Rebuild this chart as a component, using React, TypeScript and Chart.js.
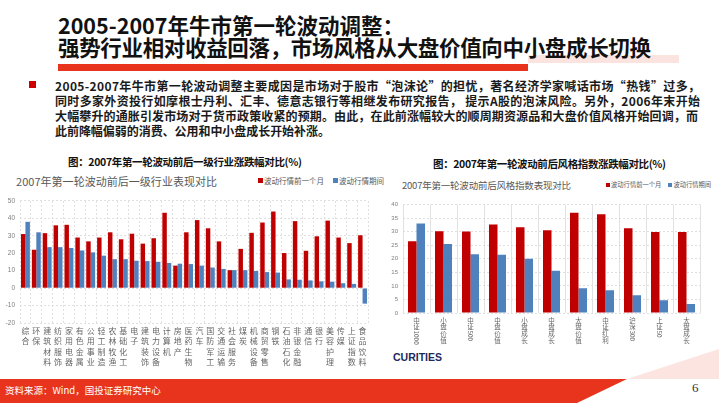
import React, { useEffect, useLayoutEffect, useRef } from 'react';
import { Chart, registerables } from 'chart.js';

Chart.register(...registerables);

// ---------- data ----------
const industryCategories = ['综合', '环保', '建筑材料', '纺织服饰', '家用电器', '有色金属', '公用事业', '轻工制造', '农林牧渔', '基础化工', '电子', '建筑装饰', '电力设备', '计算机', '房地产', '医药生物', '汽车', '国防军工', '交通运输', '社会服务', '煤炭', '机械设备', '商贸零售', '钢铁', '石油石化', '非银金融', '通信', '银行', '美容护理', '传媒', '上证指数', '食品饮料'];
const industryBefore = [31, 22, 31.5, 36, 36.3, 29, 26.8, 29, 32, 28, 31.2, 25.5, 28.6, 43.2, 12.9, 32, 39, 34.3, 26.8, 10.3, 22.5, 31.7, 37.6, 43.9, 20.1, 38.4, 21.4, 29.7, 38.7, 29, 25.8, 30.3];
const industryDuring = [38, 32, 23.5, 23.5, 23, 21.6, 20.5, 18.6, 16.6, 16.6, 15.7, 15.5, 15.1, 14.4, 14, 13.8, 12.9, 11.8, 11, 10.3, 10.3, 9.8, 9.2, 8.9, 5, 4.8, 4.4, 3.9, 3.7, 2.8, 2.4, -8.9];

const styleCategories = ['中证1000', '小盘价值', '中证500', '中盘价值', '小盘成长', '中盘成长', '大盘价值', '中证红利', '沪深300', '上证50', '大盘成长'];
const styleBefore = [26.5, 30.2, 30.1, 32.7, 31.6, 30.5, 37, 36.4, 31.3, 29.9, 29.9];
const styleDuring = [33, 25.5, 21.7, 21.5, 20, 15.6, 9.1, 8.4, 6.55, 4.7, 3.3];

const seriesNames = ['波动行情前一个月', '波动行情期间'];
const industryYTicks = [-20, 50, 10];
const styleYTicks = [0, 40, 5];

const bodyLines = [
  '2005-2007年牛市第一轮波动调整主要成因是市场对于股市“泡沫论”的担忧，著名经济学家喊话市场“热钱”过多，',
  '同时多家外资投行如摩根士丹利、汇丰、德意志银行等相继发布研究报告， 提示A股的泡沫风险。另外，2006年末开始',
  '大幅攀升的通胀引发市场对于货币政策收紧的预期。由此，在此前涨幅较大的顺周期资源品和大盘价值风格开始回调，而',
  '此前降幅偏弱的消费、公用和中小盘成长开始补涨。',
];

// ---------- style ----------
const CJK = '"Noto Sans CJK SC", "Noto Sans", sans-serif';
const RED = '#c00000';
const BLUE = '#4f81bd';
const GRID = '#d9d9d9';

const verticalLabels = {
  id: 'verticalLabels',
  afterDraw(chart: any, _args: any, opts: any) {
    const xs = chart.scales.x;
    const ctx = chart.ctx;
    ctx.save();
    ctx.fillStyle = opts.color;
    ctx.font = `${opts.size}px ${opts.family}`;
    const y0 = chart.chartArea.bottom + opts.offset;
    xs.ticks.forEach((_t: any, i: number) => {
      const x = xs.getPixelForTick(i);
      const label = String(chart.data.labels[i]);
      const runs = label.match(/[\x00-\x7F]+|[^\x00-\x7F]/g) || [];
      let y = y0;
      runs.forEach((r: string) => {
        if (/^[\x00-\x7F]+$/.test(r)) {
          const w = ctx.measureText(r).width;
          ctx.save();
          ctx.translate(x, y);
          ctx.rotate(Math.PI / 2);
          ctx.textAlign = 'left';
          ctx.textBaseline = 'middle';
          ctx.fillText(r, 0, 0);
          ctx.restore();
          y += w + 1;
        } else {
          ctx.textAlign = 'center';
          ctx.textBaseline = 'top';
          ctx.fillText(r, x, y);
          y += opts.pitch;
        }
      });
    });
    ctx.restore();
  },
};

function FitText(props: any) {
  const { text, left, top, width, size, weight, color, lh, family } = props;
  const ref = useRef<HTMLDivElement>(null);
  useLayoutEffect(() => {
    const fit = () => {
      const el = ref.current;
      if (!el || !width) return;
      el.style.letterSpacing = '0px';
      const w = el.getBoundingClientRect().width;
      const n = Array.from(text as string).length;
      el.style.letterSpacing = (width - w) / Math.max(1, n - 1) + 'px';
    };
    fit();
    if ((document as any).fonts) (document as any).fonts.ready.then(fit);
  }, []);
  return (
    <div
      ref={ref}
      style={{
        position: 'absolute', left, top, whiteSpace: 'nowrap', fontSize: size,
        fontWeight: weight || 'normal', color: color || '#111', lineHeight: (lh || size) + 'px',
        fontFamily: family || CJK,
      }}
    >
      {text}
    </div>
  );
}

function BarChart(props: any) {
  const { labels, a, b, box, pad, yWidth, xHeight, yr, catPct, tickSize, labelSize, pitch, dashX } = props;
  const ref = useRef<HTMLCanvasElement>(null);
  useEffect(() => {
    const chart = new Chart(ref.current as HTMLCanvasElement, {
      type: 'bar',
      data: {
        labels,
        datasets: [
          { label: seriesNames[0], data: a, backgroundColor: RED, borderWidth: 0, barPercentage: 1, categoryPercentage: catPct },
          { label: seriesNames[1], data: b, backgroundColor: BLUE, borderWidth: 0, barPercentage: 1, categoryPercentage: catPct },
        ],
      },
      options: {
        animation: false,
        responsive: true,
        maintainAspectRatio: false,
        layout: { padding: pad },
        plugins: {
          legend: { display: false },
          tooltip: { enabled: false },
          verticalLabels: { color: '#666666', size: labelSize, family: CJK, pitch, offset: 4 },
        } as any,
        scales: {
          x: {
            ticks: { display: false },
            grid: { color: GRID, drawTicks: false, offset: true, lineWidth: 0.8 },
            border: { display: false, dash: dashX ? [2, 2] : [] },
            afterFit: (s: any) => { s.height = xHeight; },
          },
          y: {
            min: yr[0], max: yr[1],
            ticks: { stepSize: yr[2], font: { size: tickSize, family: '"Liberation Sans", Arial, sans-serif' }, color: '#7f7f7f', padding: 5 },
            grid: { color: GRID, drawTicks: false, lineWidth: 0.8 },
            border: { display: false, dash: [2, 2] },
            afterFit: (s: any) => { s.width = yWidth; },
          },
        } as any,
      },
      plugins: [verticalLabels as any],
    });
    return () => chart.destroy();
  }, []);
  return (
    <div style={{ position: 'absolute', left: box[0], top: box[1], width: box[2], height: box[3] }}>
      <canvas ref={ref} />
    </div>
  );
}

function Legend(props: any) {
  const { left, top, size, gap } = props;
  const sq = Math.round(size * 0.6);
  return (
    <div style={{ position: 'absolute', left, top, whiteSpace: 'nowrap', fontSize: size, lineHeight: size + 'px', color: '#595959', fontFamily: CJK, display: 'flex', alignItems: 'center' }}>
      <span style={{ display: 'inline-block', width: sq, height: sq, background: RED, marginRight: 1 }} />
      <span style={{ marginRight: gap }}>{seriesNames[0]}</span>
      <span style={{ display: 'inline-block', width: sq, height: sq, background: BLUE, marginRight: 1 }} />
      <span>{seriesNames[1]}</span>
    </div>
  );
}

export default function App() {
  return (
    <div style={{ position: 'fixed', left: 0, top: 0, width: 719, height: 403, background: '#fff', overflow: 'hidden', fontFamily: CJK }}>
      {/* Title bars (behind text) */}
      <div style={{ position: 'absolute', left: 528, top: 55, width: 151, height: 8, background: '#fbe4e0' }} />
      <div style={{ position: 'absolute', left: 58, top: 64, width: 470, height: 7, background: '#e8341c' }} />
      {/* Title */}
      <div style={{ position: 'absolute', left: 58, top: 13, fontSize: 21.5, fontWeight: 'bold', lineHeight: '24px', color: '#111', whiteSpace: 'nowrap' }}>2005-2007年牛市第一轮波动调整：</div>
      <FitText text="强势行业相对收益回落，市场风格从大盘价值向中小盘成长切换" left={58} top={35} width={593} size={21.5} lh={24} weight="bold" />

      {/* Bullet */}
      <div style={{ position: 'absolute', left: 29, top: 81, width: 7, height: 7, background: '#cc0000' }} />
      <FitText text={bodyLines[0]} left={55} top={78} width={645} size={12} lh={16} weight="bold" color="#1a1a1a" />
      <FitText text={bodyLines[1]} left={55} top={93} width={645} size={12} lh={16} weight="bold" color="#1a1a1a" />
      <FitText text={bodyLines[2]} left={55} top={108} width={643} size={12} lh={16} weight="bold" color="#1a1a1a" />
      <FitText text={bodyLines[3]} left={55} top={123} width={275} size={12} lh={16} weight="bold" color="#1a1a1a" />

      {/* Captions */}
      <FitText text="图：2007年第一轮波动前后一级行业涨跌幅对比(%)" left={68} top={156} width={234} size={10.5} lh={12} weight="bold" />
      <FitText text="图：2007年第一轮波动前后风格指数涨跌幅对比(%)" left={433} top={158} width={233} size={10.5} lh={12} weight="bold" />

      {/* Left chart */}
      <FitText text="2007年第一轮波动前后一级行业表现对比" left={16} top={175} width={201} size={11} lh={13} color="#595959" />
      <Legend left={258} top={177} size={7.5} gap={9} />
      <BarChart
        labels={industryCategories} a={industryBefore} b={industryDuring}
        box={[0, 192, 372, 183]} pad={{ top: 4, right: 4, left: 0, bottom: 0 }}
        yWidth={20} xHeight={52} yr={industryYTicks} catPct={0.82}
        tickSize={6.5} labelSize={8} pitch={10.3} dashX={true}
      />

      {/* Right chart */}
      <FitText text="2007年第一轮波动前后风格指数表现对比" left={402} top={179} width={169} size={9.5} lh={12} color="#595959" />
      <Legend left={606} top={182} size={6.3} gap={7} />
      <BarChart
        labels={styleCategories} a={styleBefore} b={styleDuring}
        box={[380, 196, 323, 150]} pad={{ top: 4, right: 3, left: 0, bottom: 0 }}
        yWidth={23} xHeight={33} yr={styleYTicks} catPct={0.63}
        tickSize={6} labelSize={6.5} pitch={6.7} dashX={false}
      />

      {/* Logo fragment */}
      <div style={{ position: 'absolute', left: 393, top: 350, fontSize: 10.5, fontWeight: 'bold', lineHeight: '14px', color: '#1c2a5c', fontFamily: '"Liberation Sans", Arial, sans-serif', whiteSpace: 'nowrap' }}>CURITIES</div>

      {/* Footer */}
      <div style={{ position: 'absolute', left: 0, top: 349, width: 719, height: 54, background: '#fce4e0', clipPath: 'polygon(627px 30px, 719px 0px, 719px 30px)' }} />
      <div style={{ position: 'absolute', left: 0, top: 379, width: 719, height: 24, background: '#e8341c', clipPath: 'polygon(0 0, 627px 0, 577px 24px, 0 24px)' }} />
      <div style={{ position: 'absolute', left: 5, top: 384, fontSize: 9.5, lineHeight: '12px', color: '#fff', whiteSpace: 'nowrap' }}>资料来源：Wind，国投证券研究中心</div>
      <div style={{ position: 'absolute', left: 692, top: 380, fontSize: 13, lineHeight: '16px', color: '#333', fontFamily: '"Liberation Serif", "DejaVu Serif", serif' }}>6</div>
    </div>
  );
}
